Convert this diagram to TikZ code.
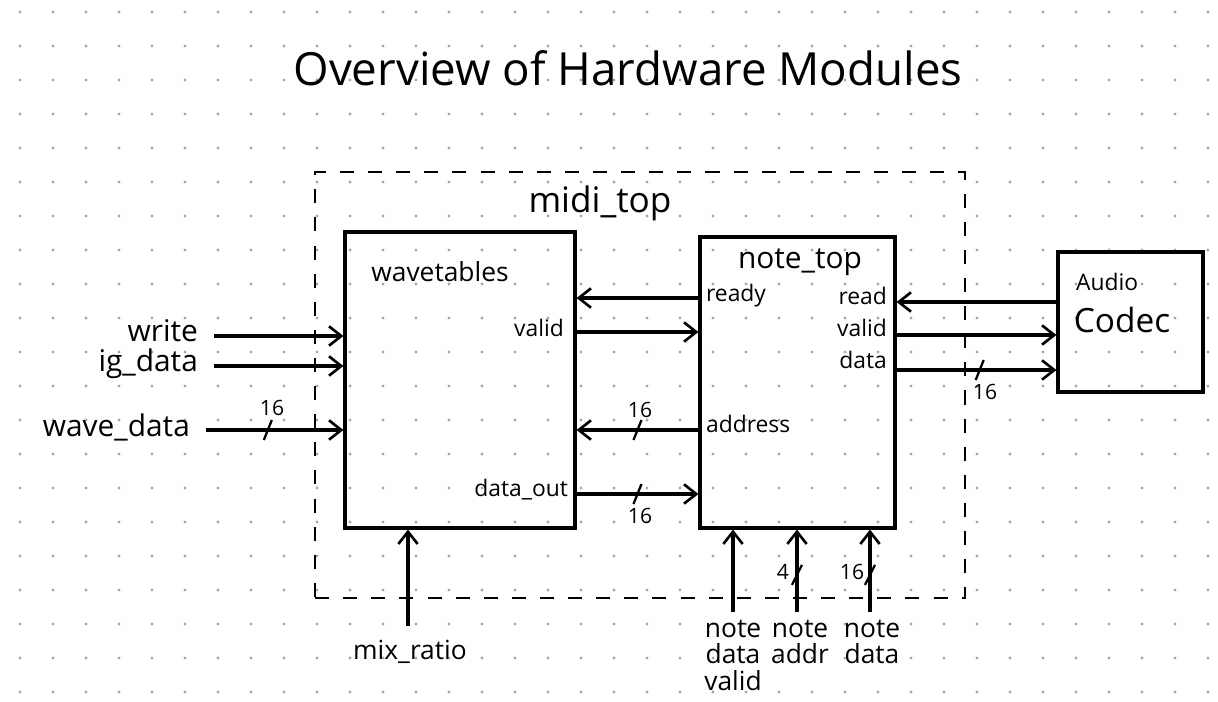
\documentclass[tikz,border=0pt]{standalone}
\usepackage{fontspec}
\setmainfont{Open Sans}
\usetikzlibrary{arrows.meta}
\newcommand{\fs}[1]{\fontsize{#1}{#1}\selectfont}
\begin{document}
\begin{tikzpicture}[x=0.02cm,y=-0.02cm,
  blk/.style={draw, line width=1.8pt, rectangle, inner sep=0pt},
  grp/.style={draw, dashed, line width=1.2pt, dash pattern=on 8pt off 8pt, rectangle, inner sep=0pt},
  wire/.style={line width=1.8pt, -{Straight Barb[length=7pt,width=11pt,line width=1.5pt]}},
  lbl/.style={font=\fs{17}, inner sep=1pt},
  plbl/.style={font=\fs{13}, inner sep=1pt},
  wlbl/.style={font=\fs{12}, inner sep=1pt},
  blbl/.style={font=\fs{15}, anchor=north, align=center, inner sep=1pt},
  slashmk/.style={line width=1.3pt}
]
\useasboundingbox (0,0) rectangle (1218,701);
\fill[white] (0,0) rectangle (1218,701);
% dot grid
\foreach \i in {0,...,36}{
  \foreach \j in {0,...,20}{
    \fill[black!35] (20+\i*33, 12+\j*34) circle (0.9pt);
  }
}
% title
\node[font=\fs{26}] (title) at (628,68) {Overview of Hardware Modules};
% group
\node[grp, minimum width=13cm, minimum height=8.52cm] (midi) at (640,385) {};
\node[font=\fs{20}] (midilbl) at (600,203) {midi\_top};
% blocks
\node[blk, minimum width=4.6cm, minimum height=5.92cm] (wt) at (460,380) {};
\node[font=\fs{15}, anchor=north] (wtl) at (440,255) {wavetables};
\node[blk, minimum width=3.9cm, minimum height=5.82cm] (nt) at (797.5,382.5) {};
\node[font=\fs{17}, anchor=north] (ntl) at (800,243) {note\_top};
\node[blk, minimum width=2.9cm, minimum height=2.8cm] (cd) at (1130.5,322) {};
\node[font=\fs{13}, anchor=west] (cdl1) at (1070,282) {Audio};
\node[font=\fs{19}] (cdl2) at (1122,320) {Codec};
% row coordinates
\coordinate (r1) at (0,336);
\coordinate (r2) at (0,366);
\coordinate (r3) at (0,430);
\coordinate (q1) at (0,298);
\coordinate (q2) at (0,332);
\coordinate (q3) at (0,430);
\coordinate (q4) at (0,494);
\coordinate (c1) at (0,302);
\coordinate (c2) at (0,335);
\coordinate (c3) at (0,370);
% input labels
\node[lbl, anchor=east] (wr) at (200,331) {write};
\node[lbl, anchor=east] (ig) at (200,364) {ig\_data};
\node[lbl, anchor=east] (wd) at (192,427) {wave\_data};
\draw[wire] (wr.east |- r1) ++(14,0) coordinate (wrs) -- (wt.west |- r1);
\draw[wire] (ig.east |- r2) ++(14,0) coordinate (igs) -- (wt.west |- r2);
\draw[wire] (wd.east |- r3) ++(14,0) coordinate (wds) -- coordinate[pos=0.45] (s0) (wt.west |- r3);
\draw[slashmk] ([shift={(-4,10)}]s0) -- ([shift={(4,-10)}]s0);
\node[wlbl] (n16a) at (272,408) {16};
% wavetables <-> note_top
\draw[wire] (nt.west |- q1) -- (wt.east |- q1);
\draw[wire] (wt.east |- q2) -- (nt.west |- q2);
\draw[wire] (nt.west |- q3) -- coordinate[pos=0.5] (s1) (wt.east |- q3);
\draw[slashmk] ([shift={(-4,10)}]s1) -- ([shift={(4,-10)}]s1);
\node[wlbl] (n16b) at (640,410) {16};
\draw[wire] (wt.east |- q4) -- coordinate[pos=0.5] (s2) (nt.west |- q4);
\draw[slashmk] ([shift={(-4,10)}]s2) -- ([shift={(4,-10)}]s2);
\node[wlbl] (n16c) at (640,516) {16};
% port labels
\node[plbl, anchor=east] (pv) at (566,328) {valid};
\node[plbl, anchor=east] (pdo) at (570,490) {data\_out};
\node[plbl, anchor=west] (prd) at (704,296) {ready};
\node[plbl, anchor=west] (pad) at (704,424) {address};
\node[plbl, anchor=east] (prr) at (889,296) {read};
\node[plbl, anchor=east] (prv) at (889,328) {valid};
\node[plbl, anchor=east] (prdd) at (889,360) {data};
% note_top <-> codec
\draw[wire] (cd.west |- c1) -- (nt.east |- c1);
\draw[wire] (nt.east |- c2) -- (cd.west |- c2);
\draw[wire] (nt.east |- c3) -- coordinate[pos=0.52] (s3) (cd.west |- c3);
\draw[slashmk] ([shift={(-4,10)}]s3) -- ([shift={(4,-10)}]s3);
\node[wlbl] (n16d) at (985,392) {16};
% bottom inputs
\node[blbl] (mix) at (410,638) {mix\_ratio};
\draw[wire] (mix.north -| 408,0) ++(0,-12) -- (408,0 |- wt.south);
\node[blbl] (ndv) at (733,618) {note\\data\\valid};
\node[blbl] (nad) at (800,618) {note\\addr};
\node[blbl] (ndt) at (872,618) {note\\data};
\draw[wire] (ndv.north) ++(0,-6) coordinate (ndvs) -- (ndvs |- nt.south);
\draw[wire] (797,612) coordinate (nads) -- coordinate[pos=0.45] (s4) (nads |- nt.south);
\draw[slashmk] ([shift={(-5,10)}]s4) -- ([shift={(5,-10)}]s4);
\node[wlbl] (n4) at (783,572) {4};
\draw[wire] (870,612) coordinate (ndts) -- coordinate[pos=0.45] (s5) (ndts |- nt.south);
\draw[slashmk] ([shift={(-5,10)}]s5) -- ([shift={(5,-10)}]s5);
\node[wlbl] (n16e) at (852,572) {16};
\end{tikzpicture}
\end{document}
